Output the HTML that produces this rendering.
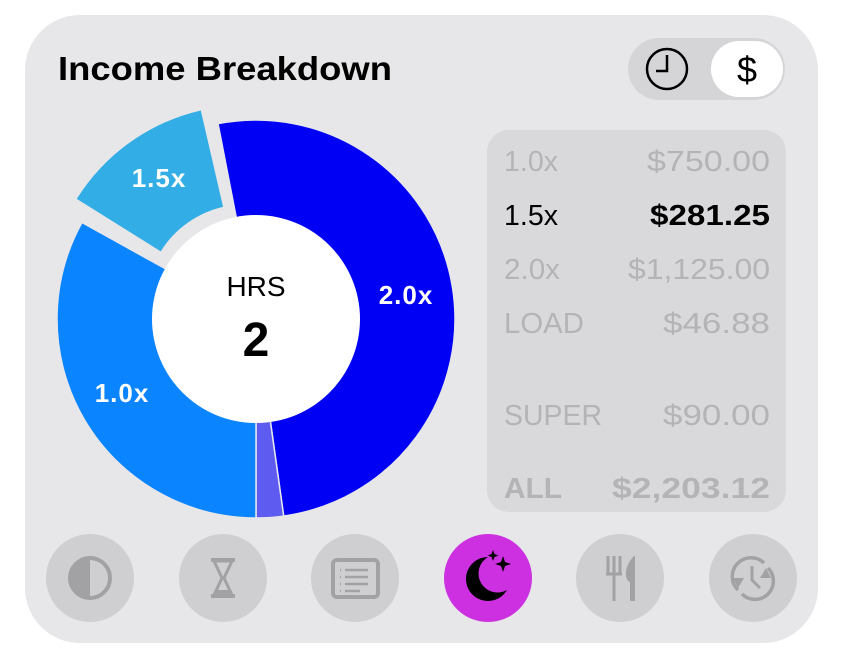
<!DOCTYPE html>
<html><head><meta charset="utf-8"><style>
html,body{margin:0;padding:0;background:#fff;width:844px;height:658px;overflow:hidden}
text{font-family:"Liberation Sans",sans-serif}
</style></head><body>
<svg id="s" width="844" height="658" viewBox="0 0 844 658" xmlns="http://www.w3.org/2000/svg">
<rect x="25" y="15" width="793" height="628" rx="55" fill="#e7e7e9"/>
<text x="58" y="80" font-size="33" font-weight="bold" fill="#000" textLength="334" lengthAdjust="spacingAndGlyphs">Income Breakdown</text>
<rect x="628" y="38" width="157" height="62" rx="31" fill="#d5d5d7"/>
<rect x="711" y="41" width="72" height="56" rx="28" fill="#fff"/>
<circle cx="667" cy="69" r="20" fill="none" stroke="#000" stroke-width="2.5"/>
<path d="M667 55 V71 H656" fill="none" stroke="#000" stroke-width="2.5"/>
<text x="747" y="82" font-size="36" text-anchor="middle" fill="#000">$</text>
<g id="donut"></g>
<circle cx="256" cy="319" r="104" fill="#fff"/>
<text x="256" y="296" font-size="28" text-anchor="middle" fill="#000">HRS</text>
<text x="256" y="356" font-size="48" font-weight="bold" text-anchor="middle" fill="#000">2</text>
<g font-size="26" font-weight="bold" fill="#fff" letter-spacing="1">
<text x="406" y="304" text-anchor="middle">2.0x</text>
<text x="122" y="402" text-anchor="middle">1.0x</text>
<text x="159" y="187" text-anchor="middle">1.5x</text>
</g>
<rect x="487" y="130" width="299" height="382" rx="22" fill="#d9d9db"/>
<g font-size="29" fill="#b4b4b7">
<text x="504" y="171" textLength="54" lengthAdjust="spacingAndGlyphs">1.0x</text><text x="647" y="171" textLength="123" lengthAdjust="spacingAndGlyphs">$750.00</text>
<text x="504" y="225" fill="#000" textLength="54" lengthAdjust="spacingAndGlyphs">1.5x</text><text x="650" y="225" fill="#000" font-weight="bold" textLength="120" lengthAdjust="spacingAndGlyphs">$281.25</text>
<text x="504" y="279" textLength="56" lengthAdjust="spacingAndGlyphs">2.0x</text><text x="628" y="279" textLength="142" lengthAdjust="spacingAndGlyphs">$1,125.00</text>
<text x="504" y="333" textLength="80" lengthAdjust="spacingAndGlyphs">LOAD</text><text x="663" y="333" textLength="107" lengthAdjust="spacingAndGlyphs">$46.88</text>
<text x="504" y="425" textLength="98" lengthAdjust="spacingAndGlyphs">SUPER</text><text x="663" y="425" textLength="107" lengthAdjust="spacingAndGlyphs">$90.00</text>
<text x="504" y="498" font-weight="bold" textLength="58" lengthAdjust="spacingAndGlyphs">ALL</text><text x="612" y="498" font-weight="bold" textLength="158" lengthAdjust="spacingAndGlyphs">$2,203.12</text>
</g>
<g fill="#cfcfd1">
<ellipse cx="90" cy="578" rx="44" ry="44"/><ellipse cx="223" cy="578" rx="44" ry="44"/>
<ellipse cx="355" cy="578" rx="44" ry="44"/><ellipse cx="620" cy="578" rx="44" ry="44"/>
<ellipse cx="753" cy="578" rx="44" ry="44"/>
</g>
<ellipse cx="488" cy="578" rx="44" ry="44" fill="#cc30e0"/>
<g fill="#a2a2a5" stroke="#a2a2a5">
<circle cx="90" cy="578" r="20" fill="none" stroke-width="4"/>
<path d="M90 558 A20 20 0 0 0 90 598 Z" stroke="none"/>
<path d="M211 560 H235 M211 596 H235" stroke-width="4"/>
<path d="M214 561 L232 561 L224 578 L232 595 L214 595 L222 578 Z" fill="none" stroke-width="3"/>
<path d="M215 590 L231 590 L231 595 L215 595Z" stroke="none"/>
<rect x="333" y="560" width="45" height="37" rx="4" fill="none" stroke-width="4"/>
<path d="M345 570 H368 M345 577 H368 M345 584 H368 M345 591 H360 M340 570h1 M340 577h1 M340 584h1 M340 591h1" stroke-width="2.5"/>
<path d="M608 556 V575 M614 556 V575 M620 556 V575 M606 574 H622 M614 575 V601" stroke-width="3" fill="none"/>
<path d="M634 556 C624 566 624 580 630 582 V601 H635 V556Z" stroke="none"/>
<path d="M738 590 A17 17 0 0 1 764 563 M768 568 A17 17 0 0 1 742 594" fill="none" stroke-width="3.5"/>
<path d="M733 578 l5 10 l6 -10z M771 578 l-5 -10 l-6 10z" stroke="none"/>
<path d="M752 566 V580 L760 588" fill="none" stroke-width="3"/>
</g>
<path d="M488 557 A22 22 0 1 0 507 590 A17 17 0 0 1 488 557Z" fill="#000"/>
<path d="M503 556 l2 6 l6 2 l-6 2 l-2 6 l-2 -6 l-6 -2 l6 -2z M493 550 l1.5 4 l4 1.5 l-4 1.5 l-1.5 4 l-1.5 -4 l-4 -1.5 l4 -1.5z" fill="#000"/>
</svg>
<script>
function P(cx,cy,r,a){a=a*Math.PI/180;return [cx+r*Math.sin(a),cy-r*Math.cos(a)];}
function arc(cx,cy,R,r,a0,a1){var l=(a1-a0)>180?1:0;var p1=P(cx,cy,R,a0),p2=P(cx,cy,R,a1),p3=P(cx,cy,r,a1),p4=P(cx,cy,r,a0);
return "M"+p1+" A"+R+" "+R+" 0 "+l+" 1 "+p2+" L"+p3+" A"+r+" "+r+" 0 "+l+" 0 "+p4+"Z";}
var cx=256,cy=319,R=199,r=100,g=document.getElementById('donut'),h='';
function seg(a0,a1,c,off){var m=(a0+a1)/2*Math.PI/180,x=cx+off*Math.sin(m),y=cy-off*Math.cos(m);
h+='<path d="'+arc(x,y,R,r,a0,a1)+'" fill="'+c+'" stroke="#e7e7e9" stroke-width="'+(off?0:1.5)+'"/>';}
seg(-11,172,'#0000f5',0);seg(172,180,'#5e5cf0',0);seg(180,299,'#0a84ff',0);seg(302,347,'#32ade6',18);
g.innerHTML=h;
</script>
</body></html>
